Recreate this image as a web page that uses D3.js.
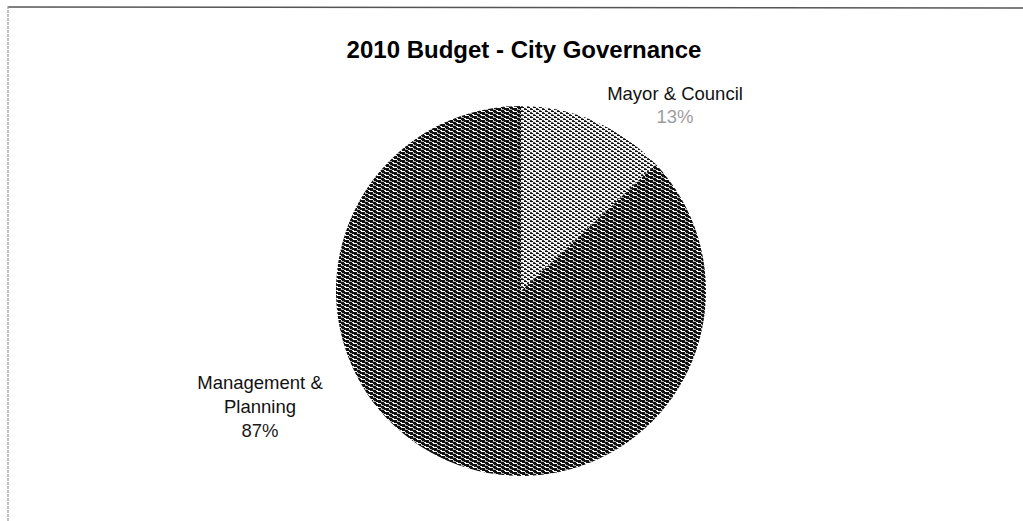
<!DOCTYPE html>
<html>
<head>
<meta charset="utf-8">
<script src="https://cdn.jsdelivr.net/npm/d3@7/dist/d3.min.js"></script>
<style>
  html, body { margin: 0; padding: 0; background: #fff; }
  svg { display: block; }
  text { font-family: "Liberation Sans", Arial, sans-serif; }
</style>
</head>
<body>
<svg id="chart" width="1023" height="521"></svg>
<script>
// Budget shares (percent) by department
const categories = ["Mayor & Council", "Management & Planning"];
const shares = [13, 87];
const labelLines = [["Mayor & Council"], ["Management &", "Planning"]];
const chartTitle = "2010 Budget - City Governance";

const svg = d3.select("#chart");
const W = 1023, H = 521;
const cx = 521, cy = 291, R = 185;

// dithered fills, as printed on a laser page
const defs = svg.append("defs");
const dark = defs.append("pattern").attr("id", "ditherDark")
  .attr("patternUnits", "userSpaceOnUse").attr("width", 8).attr("height", 4);
dark.append("rect").attr("width", 8).attr("height", 4).attr("fill", "#111");
dark.append("rect").attr("x", 0).attr("y", 0).attr("width", 4).attr("height", 1).attr("fill", "#ffffff");
dark.append("rect").attr("x", 4).attr("y", 1).attr("width", 1).attr("height", 1).attr("fill", "#d8d8d8");
dark.append("rect").attr("x", 4).attr("y", 2).attr("width", 3).attr("height", 1).attr("fill", "#b0b0b0");
dark.append("rect").attr("x", 0).attr("y", 3).attr("width", 1).attr("height", 1).attr("fill", "#ffffff");
dark.append("rect").attr("x", 7).attr("y", 3).attr("width", 1).attr("height", 1).attr("fill", "#e0e0e0");

const light = defs.append("pattern").attr("id", "ditherLight")
  .attr("patternUnits", "userSpaceOnUse").attr("width", 6).attr("height", 4);
light.append("rect").attr("width", 6).attr("height", 4).attr("fill", "#f4f4f4");
light.append("rect").attr("x", 0).attr("y", 0).attr("width", 3).attr("height", 1).attr("fill", "#111");
light.append("rect").attr("x", 3).attr("y", 1).attr("width", 2).attr("height", 1).attr("fill", "#444");
light.append("rect").attr("x", 3).attr("y", 2).attr("width", 3).attr("height", 1).attr("fill", "#111");
light.append("rect").attr("x", 0).attr("y", 3).attr("width", 2).attr("height", 1).attr("fill", "#555");

const fills = ["url(#ditherLight)", "url(#ditherDark)"];

// frame edges
svg.append("line").attr("x1", 8).attr("y1", 7).attr("x2", W).attr("y2", 8)
  .attr("stroke", "#555").attr("stroke-width", 1.5);
svg.append("line").attr("x1", 8).attr("y1", 6).attr("x2", 8).attr("y2", H)
  .attr("stroke", "#999").attr("stroke-width", 1.2).attr("stroke-dasharray", "3,1");

// title
svg.append("text")
  .attr("x", 524).attr("y", 58)
  .attr("text-anchor", "middle")
  .attr("font-size", 24).attr("font-weight", "bold").attr("fill", "#000")
  .text(chartTitle);

// pie, starting at 12 o'clock and running clockwise
const pie = d3.pie().sort(null).value(d => d)(shares);
const arc = d3.arc().innerRadius(0).outerRadius(R);

const g = svg.append("g").attr("transform", `translate(${cx},${cy})`);
g.selectAll("path.slice")
  .data(pie)
  .join("path")
  .attr("class", "slice")
  .attr("d", arc)
  .attr("fill", (d, i) => fills[i]);

// outside labels with name lines and percent
const labelPos = [
  { x: 675, y: 100, pctColor: "#9d9d9d" },
  { x: 260, y: 389, pctColor: "#1a1a1a" }
];
const lineH = 24;
pie.forEach((d, i) => {
  const p = labelPos[i];
  const t = svg.append("text")
    .attr("text-anchor", "middle")
    .attr("font-size", 18.5)
    .attr("fill", "#111");
  labelLines[i].forEach((ln, k) => {
    t.append("tspan").attr("x", p.x).attr("y", p.y + k * lineH).text(ln);
  });
  const pct = Math.round(100 * d.value / d3.sum(shares)) + "%";
  svg.append("text")
    .attr("x", p.x).attr("y", p.y + labelLines[i].length * lineH - (i === 0 ? 1 : 0))
    .attr("text-anchor", "middle")
    .attr("font-size", 18.5)
    .attr("fill", p.pctColor)
    .text(pct);
});
</script>
</body>
</html>
